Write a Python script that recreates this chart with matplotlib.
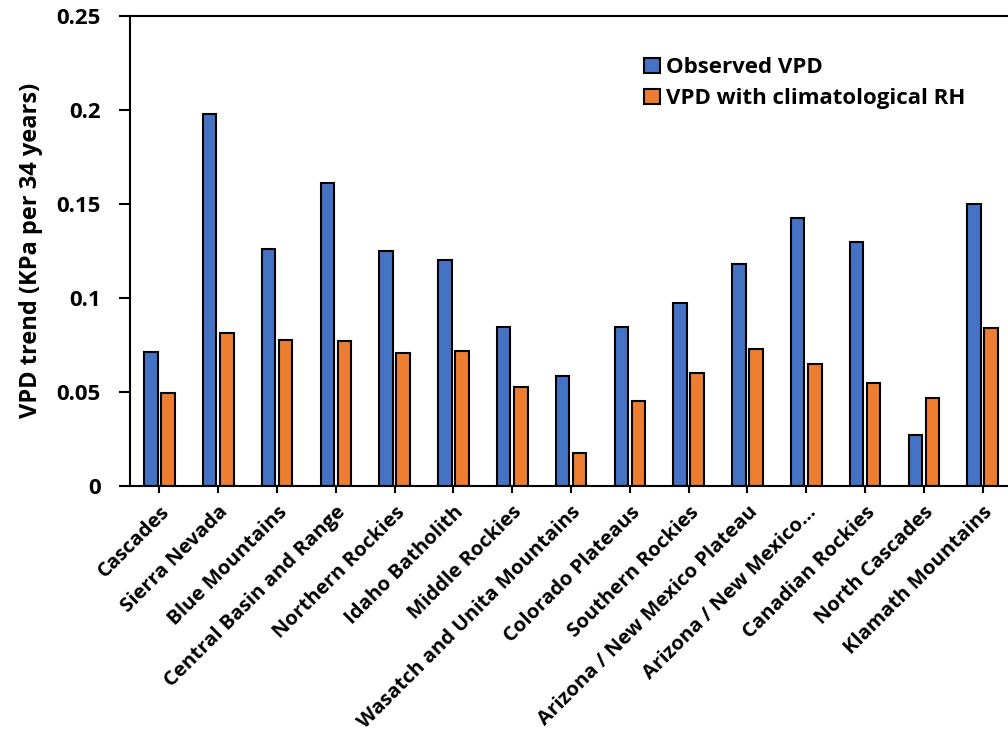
import numpy as np
import matplotlib
matplotlib.use("Agg")
import matplotlib.pyplot as plt

# tendencias de VPD por ecorregion (KPa en 34 años)
regiones = ["Cascades", "Sierra Nevada", "Blue Mountains", "Central Basin and Range",
            "Northern Rockies", "Idaho Batholith", "Middle Rockies",
            "Wasatch and Unita Mountains", "Colorado Plateaus", "Southern Rockies",
            "Arizona / New Mexico Plateau", "Arizona / New Mexico...",
            "Canadian Rockies", "North Cascades", "Klamath Mountains"]
vpd_obs = [0.0714, 0.198, 0.126, 0.1612, 0.125, 0.1203, 0.0847, 0.0582, 0.0847,
           0.0972, 0.1182, 0.1425, 0.1298, 0.0270, 0.1498]
vpd_rh = [0.0494, 0.0811, 0.0773, 0.0768, 0.0708, 0.0715, 0.0527, 0.0176, 0.0448,
          0.0602, 0.0730, 0.0650, 0.0544, 0.0467, 0.0838]

plt.rcParams['font.family'] = ['Open Sans', 'DejaVu Sans']
plt.rcParams['font.weight'] = 'bold'

fig = plt.figure(figsize=(10.08, 7.40), dpi=100)
ax = fig.add_axes([0.129, 0.3437, 0.875, 0.6347])

x = np.arange(len(regiones))
ancho = 0.23
ax.bar(x - 0.145, vpd_obs, ancho, color='#4472C4', edgecolor='black', linewidth=1.5,
       label='Observed VPD')
ax.bar(x + 0.145, vpd_rh, ancho, color='#ED7D31', edgecolor='black', linewidth=1.5,
       label='VPD with climatological RH')

ax.set_xlim(-0.5, len(regiones) - 0.5)
ax.set_ylim(0, 0.25)
ax.set_yticks([0, 0.05, 0.1, 0.15, 0.2, 0.25])
ax.set_yticklabels(["0", "0.05", "0.1", "0.15", "0.2", "0.25"], fontsize=16, fontweight='bold')
ax.set_xticks(x)
ax.set_xticklabels(regiones, rotation=45, ha='right', va='top', rotation_mode='anchor',
                   fontsize=14.6, fontweight='bold')
ax.tick_params(axis='y', direction='out', length=8, width=1.5, pad=13)
ax.tick_params(axis='x', direction='out', length=5, width=1.5, pad=7)

ax.set_ylabel("VPD trend (KPa per 34 years)", fontsize=17, fontweight='bold', labelpad=10)

# solo eje izquierdo, inferior y superior
ax.spines['right'].set_visible(False)
for lado in ['left', 'bottom', 'top']:
    ax.spines[lado].set_linewidth(1.5)

ax.legend(loc='upper left', bbox_to_anchor=(0.56, 0.955), frameon=False,
          prop={'size': 16, 'weight': 'bold'}, handlelength=0.7, handleheight=0.7,
          handletextpad=0.3, labelspacing=0.45)

fig.savefig("out.png", dpi=100)
